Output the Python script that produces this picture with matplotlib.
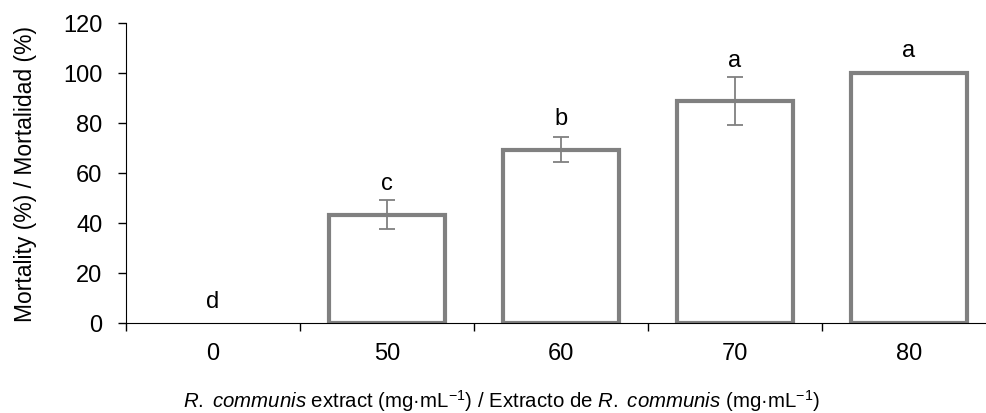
import numpy as np
import matplotlib
matplotlib.use('Agg')
import matplotlib.pyplot as plt

plt.rcParams['font.family'] = ['Liberation Sans', 'DejaVu Sans']
plt.rcParams['mathtext.fontset'] = 'custom'
plt.rcParams['mathtext.rm'] = 'Liberation Sans'
plt.rcParams['mathtext.it'] = 'Liberation Sans:italic'

# data
doses = ['0', '50', '60', '70', '80']
mortality = [0, 43.3, 69.4, 88.7, 100]
errors = [0, 5.8, 5.0, 9.6, 0]
letters = ['d', 'c', 'b', 'a', 'a']
letter_y = [6.4, 53.6, 79.6, 102.8, 106.8]

gray = '#808080'

fig = plt.figure(figsize=(9.86, 4.14), dpi=100)
ax = fig.add_axes([126/986, 90/414, 870/986, 300/414])

x = np.arange(len(doses))
edges = [gray if m > 0 else 'none' for m in mortality]
ax.bar(x, mortality, width=0.67, color='white', edgecolor=edges, linewidth=3)
ax.errorbar(x[1:], mortality[1:], yerr=errors[1:], fmt='none', ecolor=gray,
            elinewidth=1.3, capsize=6, capthick=1.3)

for xi, lab, ly in zip(x, letters, letter_y):
    ax.text(xi, ly, lab, ha='center', va='baseline', fontsize=17)

ax.set_xlim(-0.5, len(doses) - 0.5)
ax.set_ylim(0, 120)
ax.set_yticks(range(0, 121, 20))
ax.set_xticks(x)
ax.set_xticklabels(doses)
ax.set_xticks(np.arange(-0.5, len(doses), 1), minor=True)
ax.tick_params(axis='x', which='major', length=0, pad=14, labelsize=17)
ax.tick_params(axis='x', which='minor', length=6, direction='out', width=1)
ax.tick_params(axis='y', length=6, width=1, pad=11, labelsize=17)

ax.spines['top'].set_visible(False)
ax.spines['right'].set_visible(False)

ax.set_ylabel('Mortality (%) / Mortalidad (%)', fontsize=16.5, labelpad=19)
ax.set_xlabel(r'$\it{R.\ communis}$ extract (mg·mL$^{-1}$) / Extracto de '
              r'$\it{R.\ communis}$ (mg·mL$^{-1}$)', fontsize=14.7)
ax.xaxis.set_label_coords(0.432, -0.215)

plt.savefig('out.png', dpi=100)
